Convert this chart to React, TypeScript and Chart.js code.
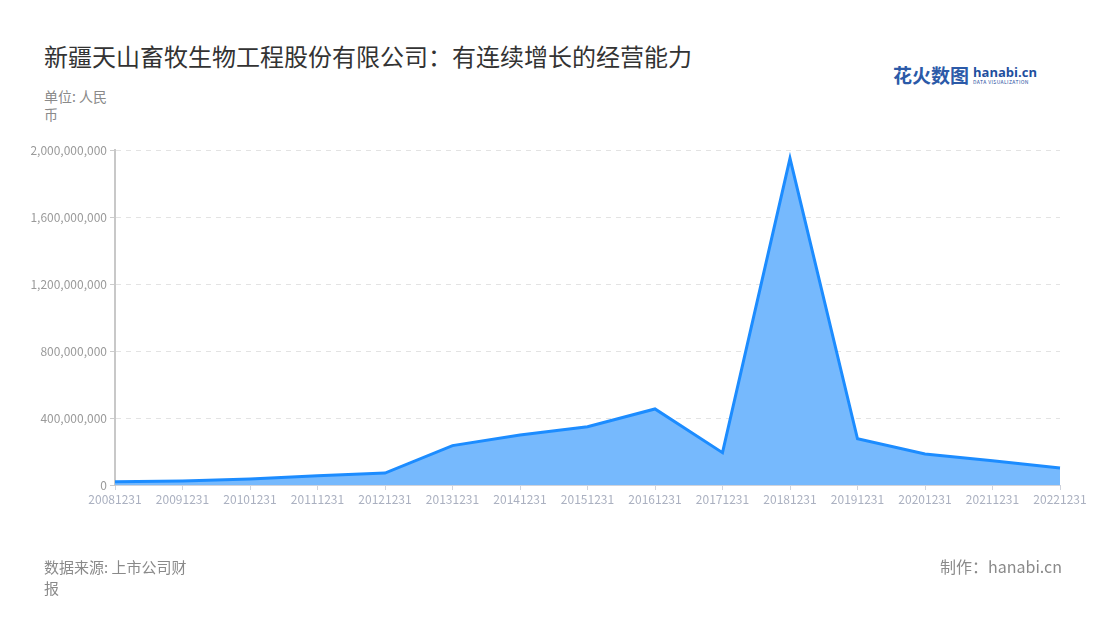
import React, { useEffect, useRef } from 'react';
import { Chart, registerables } from 'chart.js';

Chart.register(...registerables);

const periods = [
    '20081231', '20091231', '20101231', '20111231', '20121231',
    '20131231', '20141231', '20151231', '20161231', '20171231',
    '20181231', '20191231', '20201231', '20211231', '20221231'
];

const revenue = [
    20000000, 24000000, 36000000, 55000000, 71000000,
    235000000, 298000000, 348000000, 454000000, 193000000,
    1950000000, 276000000, 185000000, 145000000, 101000000
];

const yTicks = [0, 400000000, 800000000, 1200000000, 1600000000, 2000000000];

const font = '"Noto Sans CJK SC", "Noto Sans", sans-serif';

export default function App() {
    const canvas = useRef(null);

    useEffect(() => {
        document.body.style.margin = '0';
        const chart = new Chart(canvas.current, {
            type: 'line',
            data: {
                labels: periods,
                datasets: [{
                    label: '营业收入',
                    data: revenue,
                    borderColor: '#1c8cff',
                    borderWidth: 3,
                    backgroundColor: '#76b9fd',
                    fill: 'origin',
                    pointRadius: 0,
                    tension: 0
                }]
            },
            options: {
                animation: false,
                responsive: false,
                layout: { padding: { top: 150, right: 40, bottom: 105, left: 0 } },
                plugins: {
                    legend: { display: false },
                    tooltip: { enabled: false }
                },
                scales: {
                    x: {
                        offset: false,
                        afterFit: (scale) => { scale.height = 30; },
                        grid: { drawOnChartArea: false, tickLength: 5, tickColor: '#cfd3dc', tickWidth: 1 },
                        border: { color: '#cfd3dc', width: 1 },
                        ticks: {
                            autoSkip: false,
                            maxRotation: 0,
                            padding: 2,
                            color: '#aab0c0',
                            font: { family: font, size: 12 }
                        }
                    },
                    y: {
                        min: 0,
                        max: 2000000000,
                        afterFit: (scale) => { scale.width = 115; },
                        afterBuildTicks: (scale) => { scale.ticks = yTicks.map(v => ({ value: v })); },
                        grid: { color: '#e3e3e3', tickColor: '#cccccc', tickLength: 5, lineWidth: 1 },
                        border: { color: '#c8c8c8', width: 2, dash: [5, 5] },
                        ticks: {
                            padding: 3,
                            color: '#9a9a9a',
                            font: { family: font, size: 12 },
                            callback: (v) => Number(v).toLocaleString('en-US')
                        }
                    }
                }
            }
        });
        return () => {
            chart.destroy();
        };
    }, []);

    return (
        <div style={{ position: 'relative', width: 1100, height: 620, background: '#fff', fontFamily: font }}>
            <div style={{ position: 'absolute', left: 44, top: 38, fontSize: 24, color: '#333' }}>
                新疆天山畜牧生物工程股份有限公司：有连续增长的经营能力
            </div>
            <div style={{ position: 'absolute', right: 63, top: 61, display: 'flex', alignItems: 'center' }}>
                <span style={{ fontSize: 19, fontWeight: 700, color: '#2b5aa8' }}>花火数图</span>
                <span style={{ display: 'flex', flexDirection: 'column', marginLeft: 4, lineHeight: 1 }}>
                    <span style={{ fontSize: 13, fontWeight: 700, color: '#1f4f9e', fontFamily: '"Open Sans", sans-serif' }}>hanabi.cn</span>
                    <span style={{ fontSize: 5, color: '#1f4f9e', letterSpacing: 0.4 }}>DATA VISUALIZATION</span>
                </span>
            </div>
            <div style={{ position: 'absolute', left: 44, top: 87, width: 66, fontSize: 14, lineHeight: '18px', color: '#8a8a8a' }}>
                单位: 人民币
            </div>
            <canvas ref={canvas} width={1100} height={620} style={{ position: 'absolute', left: 0, top: 0 }}></canvas>
            <div style={{ position: 'absolute', left: 44, top: 556, width: 155, fontSize: 15, lineHeight: '21px', color: '#8a8a8a' }}>
                数据来源: 上市公司财报
            </div>
            <div style={{ position: 'absolute', right: 38, top: 556, fontSize: 16, lineHeight: '21px', color: '#8a8a8a' }}>
                制作：hanabi.cn
            </div>
        </div>
    );
}
